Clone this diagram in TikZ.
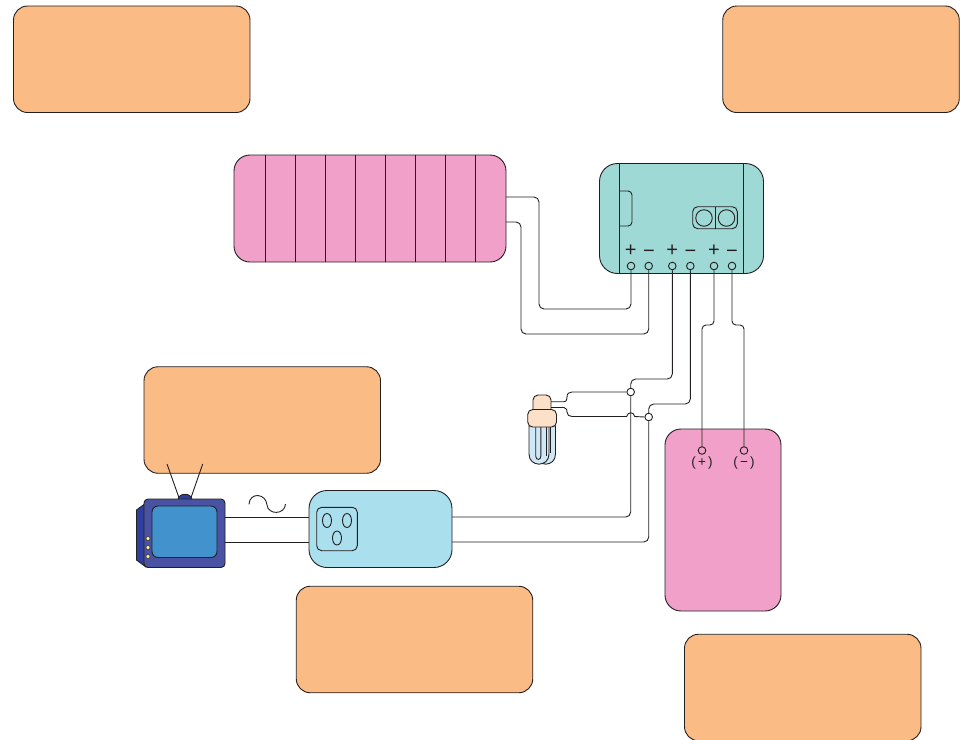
\documentclass[tikz,border=0pt]{standalone}
\usepackage{fontspec}
\setmainfont{Liberation Sans}
\definecolor{ink}{HTML}{231F20}
\definecolor{orangeF}{HTML}{FBBB84}
\definecolor{pinkF}{HTML}{F1A1C9}
\definecolor{tealF}{HTML}{9FD9D6}
\definecolor{outletF}{HTML}{AADFEE}
\definecolor{tvBody}{HTML}{4A52A3}
\definecolor{tvSide}{HTML}{2E3F9E}
\definecolor{tvScreen}{HTML}{4192CD}
\definecolor{dotY}{HTML}{FBEE9A}
\definecolor{lampBase}{HTML}{FDE0C8}
\definecolor{lampTube}{HTML}{CFE8F5}
\tikzset{
  ln/.style={draw=ink,line width=0.9pt},
  rbox/.style={ln,rectangle,inner sep=0pt,outer sep=0pt},
  orangebox/.style={rbox,fill=orangeF,rounded corners=14pt,minimum width=236.5pt,minimum height=106.5pt},
  wire/.style={ln,rounded corners=5pt},
  term/.style={ln,circle,fill=white,inner sep=0pt,minimum size=7.6pt},
  sign/.style={inner sep=0pt,font=\fontsize{20}{20}\selectfont,text=ink},
  batlabel/.style={inner sep=0pt,font=\fontsize{13.5}{13.5}\selectfont,text=ink},
  hole/.style={ln,ellipse,inner sep=0pt,minimum width=9pt,minimum height=14pt}
}
\usetikzlibrary{shapes.geometric}
\begin{document}
\begin{tikzpicture}[x=1pt,y=-1pt]
\path[use as bounding box] (0,0) rectangle (960,739);
\clip (0,0) rectangle (960,739);
% callout boxes
\node[orangebox] (tl) at (131.75,59.25) {};
\node[orangebox] (tr) at (841,59.25) {};
\node[orangebox] (ml) at (262.25,420) {};
\node[orangebox] (bm) at (414.5,639.5) {};
\node[orangebox] (br) at (802.75,687.5) {};
% solar panel
\node[rbox,fill=pinkF,rounded corners=16pt,minimum width=272pt,minimum height=107pt] (pv) at (370,208.5) {};
\foreach \x in {265,295,325,355,385,415,445,475} \draw[ln] (\x,155) -- (\x,262);
% controller
\node[rbox,fill=tealF,rounded corners=18pt,minimum width=164pt,minimum height=110pt] (ctl) at (681.5,218.5) {};
\draw[ln] (619.5,163.5) -- (619.5,273.5);
\draw[ln] (743.5,163.5) -- (743.5,273.5);
\draw[ln,rounded corners=4pt] (619.5,191) -- (632,191) -- (632,226) -- (619.5,226);
\node[rbox,rounded corners=5pt,minimum width=44.6pt,minimum height=22pt] (sw) at (715,217.7) {};
\draw[ln] (sw.north) -- (sw.south);
\node[ln,circle,inner sep=0pt,minimum size=16.5pt] (swa) at (704,218) {};
\node[ln,circle,inner sep=0pt,minimum size=16.5pt] (swb) at (726.5,218) {};
\foreach \n/\x in {t1/631,t2/648.7,t3/672.3,t4/690.3,t5/714,t6/732}
  \node[term,fill=none] (\n) at (\x,266) {};
\foreach \n/\x/\y/\s in {s1/630.7/250.6/+,s2/649/254.3/−,s3/672.2/250.6/+,s4/690.5/254.3/−,s5/714/250.6/+,s6/732/254.3/−}
  \node[sign] (\n) at (\x,\y) {\s};
% battery
\node[rbox,fill=pinkF,rounded corners=16pt,minimum width=116pt,minimum height=182pt] (bat) at (723,520) {};
\node[term,fill=none] (bp) at (702,450.5) {};
\node[term,fill=none] (bm1) at (744,450.5) {};
\node[batlabel] (bpl) at (702,462.5) {(\,+\,)};
\node[batlabel] (bml) at (744,462.5) {(\,−\,)};
% outlet
\node[rbox,fill=outletF,rounded corners=18pt,minimum width=143pt,minimum height=77pt] (out) at (380.5,529) {};
\node[rbox,rounded corners=5pt,minimum width=40.6pt,minimum height=43.4pt] (sock) at (337,529) {};
\node[hole] (h1) at (327,520.5) {};
\node[hole] (h2) at (347,520.5) {};
\node[hole] (h3) at (337,538) {};
% TV
\draw[ln] (167,464) -- (179,497.7);
\draw[ln] (202.7,464) -- (191,497.7);
\draw[ln,fill=tvSide] (178,499.5) .. controls (179,492.5) and (191,492.5) .. (192,499.5) -- cycle;
\draw[ln,fill=tvSide] (146,503) -- (136.5,510) -- (136.5,560) -- (146,567) -- cycle;
\node[rbox,fill=tvBody,rounded corners=4pt,minimum width=81pt,minimum height=68.5pt] (tv) at (184.5,533.25) {};
\node[rbox,fill=tvScreen,rounded corners=6pt,minimum width=65pt,minimum height=51.5pt] (scr) at (184.5,531.75) {};
\foreach \n/\y in {d1/538.5,d2/547.5,d3/556.5}
  \node[ln,circle,fill=dotY,inner sep=0pt,minimum size=4pt,line width=0.4pt] (\n) at (148,\y) {};
% AC symbol
\draw[ln] (249,504.3) .. controls (249.5,492) and (266,493) .. (267,505) .. controls (268,515) and (285,515) .. (285.5,504);
% lamp
\draw[ln,fill=lampTube] (536,426) -- (536,454) .. controls (536,467.5) and (555.5,467.5) .. (555.5,454) -- (555.5,426) -- cycle;
\draw[ln,fill=lampTube] (529,426) -- (529,454) .. controls (529,467.5) and (549,467.5) .. (549,454) -- (549,426) -- cycle;
\draw[ln] (535.7,426) -- (535.7,456) .. controls (535.7,460.5) and (540.9,460.5) .. (540.9,456) -- (540.9,426);
\draw[ln] (546,426) -- (546,456);
\draw[ln] (550.7,426) -- (550.7,453);
\node[rbox,fill=lampBase,rounded corners=5pt,minimum width=18pt,minimum height=20pt] (lu) at (542,405) {};
\draw[ln,fill=lampBase,rounded corners=5pt] (527.7,427) -- (527.7,409.5) -- (556.5,409.5) -- (556.5,427) -- cycle;
% junctions
\node[term] (j1) at (630.7,392) {};
\node[term] (j2) at (648.7,417) {};
% named free ends
\coordinate (pvA) at (506,197);
\coordinate (pvB) at (506,222);
\coordinate (outA) at (452,517);
\coordinate (outB) at (452,542);
\coordinate (outC) at (309,517.5);
\coordinate (outD) at (309,542);
\coordinate (tvA) at (225,517.5);
\coordinate (tvB) at (225,542);
\coordinate (lampA) at (551,401.7);
\coordinate (lampB) at (551,407.5);
% connectors
\draw[wire] (pvA) -- (539,197) -- (539,309) -- (631,309) -- (t1.south);
\draw[wire] (pvB) -- (521,222) -- (521,334) -- (648.7,334) -- (t2.south);
\draw[wire] (t3.south) -- (672.3,379) -- (630.7,379) -- (j1.north);
\draw[wire] (t4.south) -- (690.3,404) -- (648.7,404) -- (j2.north);
\draw[wire,rounded corners=4pt] (t5.south) -- (714,325) -- (702,325) -- (702,340) -- (bp.north);
\draw[wire,rounded corners=4pt] (t6.south) -- (732,325) -- (744,325) -- (744,340) -- (bm1.north);
\draw[wire] (j1.south) -- (630.7,517) -- (outA);
\draw[wire] (j2.south) -- (648.7,542) -- (outB);
\draw[ln] (lampA) -- (564,401.7) .. controls (567,401.7) and (567,398) .. (567,397) .. controls (567,393.5) and (569,392) .. (572,392) -- (j1.west);
\draw[ln] (lampB) -- (564,407.5) .. controls (567,407.5) and (567,411) .. (567,412) .. controls (567,415) and (569,416.5) .. (572,416.5) -- (626.7,416.5) .. controls (627.5,411.5) and (633.9,411.5) .. (634.7,416.5) -- (j2.west);
\draw[ln] (tvA) -- (outC);
\draw[ln] (tvB) -- (outD);
\end{tikzpicture}
\end{document}
